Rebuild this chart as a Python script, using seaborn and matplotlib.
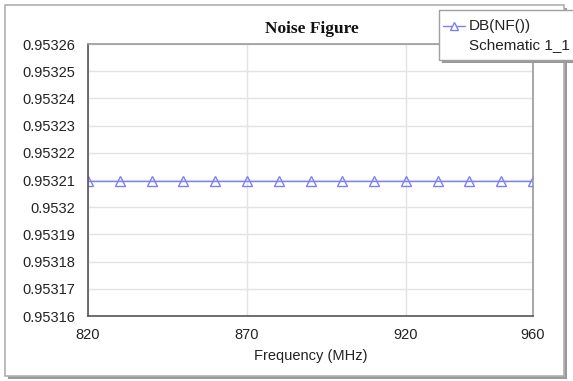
import numpy as np
import pandas as pd
import matplotlib
matplotlib.use("Agg")
import matplotlib.pyplot as plt
import seaborn as sns
from matplotlib.patches import Rectangle
from matplotlib.lines import Line2D

# Data
freq_mhz = [820, 830, 840, 850, 860, 870, 880, 890, 900, 910, 920, 930, 940, 950, 960]
nf_db = [0.9532097] * 15
x_ticks = [820, 870, 920, 960]
y_ticks = [0.95316, 0.95317, 0.95318, 0.95319, 0.95320, 0.95321, 0.95322,
           0.95323, 0.95324, 0.95325, 0.95326]
y_tick_labels = ["0.95316", "0.95317", "0.95318", "0.95319", "0.9532", "0.95321",
                 "0.95322", "0.95323", "0.95324", "0.95325", "0.95326"]
series_name = "DB(NF())"
series_sub = "Schematic 1_1"

sns.set_theme(style="white")
plt.rcParams['font.family'] = ['Liberation Sans', 'DejaVu Sans']

fig = plt.figure(figsize=(5.73, 3.81), dpi=100)
W, H = 573, 381

# Outer frame with shadow
fig.patches.append(Rectangle((8 / W, 1 - 379 / H), (567 - 8) / W, (379 - 8) / H,
                             transform=fig.transFigure, facecolor="#9a9a9a",
                             edgecolor="none", zorder=-3))
fig.patches.append(Rectangle((5 / W, 1 - 376 / H), (564 - 5) / W, (376 - 5) / H,
                             transform=fig.transFigure, facecolor="white",
                             edgecolor="#b0b0b0", linewidth=1.2, zorder=-2))

ax = fig.add_axes([88 / W, 1 - 316 / H, (533 - 88) / W, (316 - 44) / H])
ax.set_zorder(1)
df = pd.DataFrame({"freq": freq_mhz, "nf": nf_db})
color = "#7e7ef5"
sns.lineplot(data=df, x="freq", y="nf", ax=ax, color=color, linewidth=1.0,
             marker="^", markersize=6.5, markerfacecolor="none",
             markeredgecolor=color, markeredgewidth=1.0, legend=False)

ax.set_xlim(820, 960)
ax.set_ylim(0.95316, 0.95326)
ax.set_xticks(x_ticks)
ax.set_xticklabels([str(v) for v in x_ticks])
ax.set_yticks(y_ticks)
ax.set_yticklabels(y_tick_labels)
ax.tick_params(axis="both", length=0, labelsize=10.5, colors="#222222")
ax.tick_params(axis="y", pad=9)
ax.tick_params(axis="x", pad=8.5)
ax.grid(True, color="#e3e3e3", linewidth=1.0)
ax.set_axisbelow(True)
for side in ["left", "bottom"]:
    ax.spines[side].set_color("#555555")
    ax.spines[side].set_linewidth(1.2)
for side in ["top", "right"]:
    ax.spines[side].set_color("#9a9a9a")
    ax.spines[side].set_linewidth(1.2)
ax.set_xlabel("Frequency (MHz)", fontsize=10.5, color="#222222", labelpad=5)
ax.set_ylabel("")

fig.text(312 / W, 1 - 29 / H, "Noise Figure", ha="center", va="center",
         fontsize=12.5, fontweight="bold", family=["Liberation Serif", "DejaVu Serif"],
         color="#111111")

# Legend box
lx0, ly0, lx1, ly1 = 439, 10, 580, 60
fig.patches.append(Rectangle(((lx0 + 3) / W, 1 - (ly1 + 3) / H), (lx1 - lx0) / W, (ly1 - ly0) / H,
                             transform=fig.transFigure, facecolor="#9a9a9a",
                             edgecolor="none", zorder=5))
fig.patches.append(Rectangle((lx0 / W, 1 - ly1 / H), (lx1 - lx0) / W, (ly1 - ly0) / H,
                             transform=fig.transFigure, facecolor="white",
                             edgecolor="#a0a0a0", linewidth=1.0, zorder=6))
fig.lines.append(Line2D([443 / W, 465 / W], [1 - 26 / H, 1 - 26 / H],
                        transform=fig.transFigure, color=color, linewidth=1.0,
                        zorder=7))
fig.lines.append(Line2D([454 / W], [1 - 25.5 / H], transform=fig.transFigure,
                        color=color, marker="^", markersize=5.5, markerfacecolor="white",
                        markeredgecolor=color, linestyle="none", zorder=7))
fig.text(469 / W, 1 - 26 / H, series_name, ha="left", va="center", fontsize=11,
         color="#222222", zorder=8)
fig.text(469 / W, 1 - 45 / H, series_sub, ha="left", va="center", fontsize=11,
         color="#222222", zorder=8)

fig.savefig("out.png", dpi=100)
